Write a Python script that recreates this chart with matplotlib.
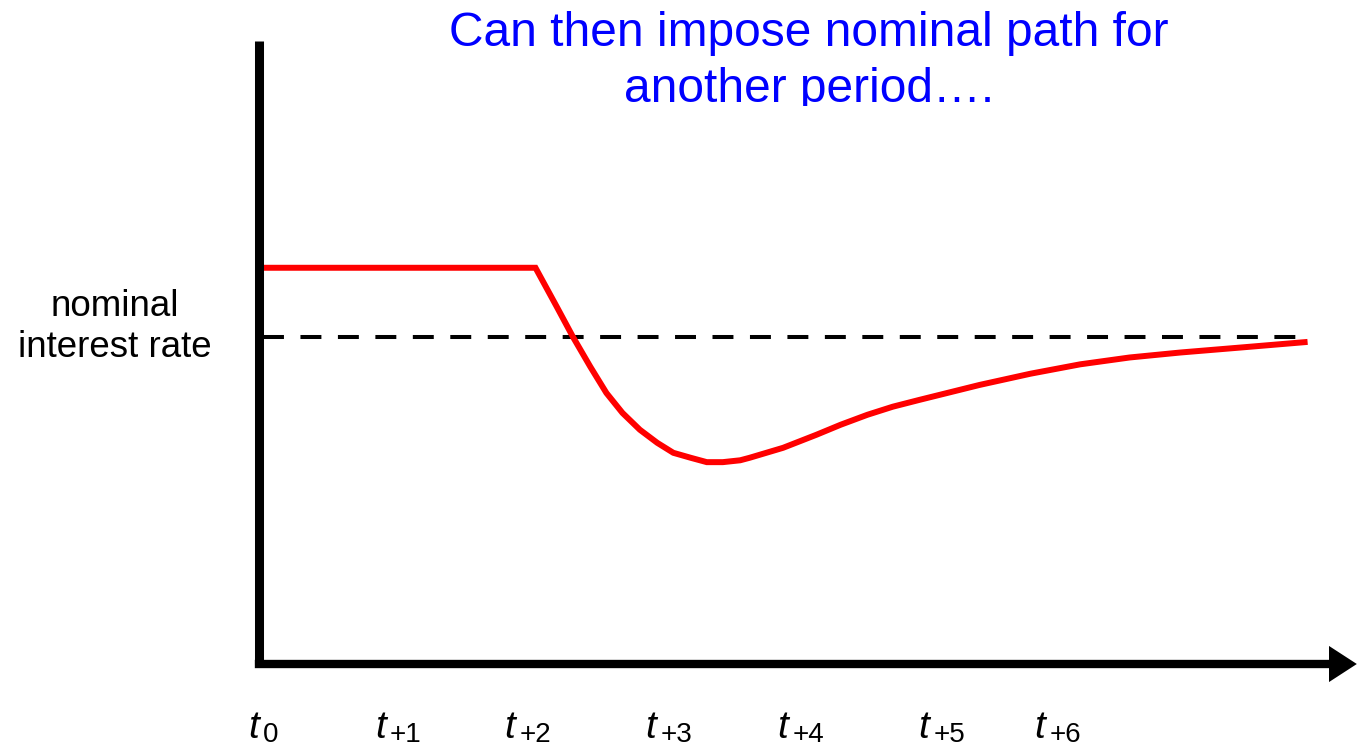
import matplotlib
matplotlib.use("Agg")
import matplotlib.pyplot as plt
from matplotlib.patches import Polygon
from matplotlib.transforms import Bbox, TransformedBbox

plt.rcParams['font.family'] = ['Liberation Sans', 'DejaVu Sans']

# nominal interest rate path (x in periods, y in index units)
path_x = [-0.03, 2.07, 2.23, 2.35, 2.48, 2.60, 2.72, 2.85, 2.98, 3.10,
          3.23, 3.35, 3.47, 3.60, 3.67, 3.92, 4.17, 4.35, 4.55, 4.74, 4.94,
          5.39, 5.77, 6.14, 6.51, 6.89, 7.34, 7.84]
path_y = [63.6, 63.6, 57.3, 52.5, 47.7, 43.5, 40.3, 37.6, 35.5, 33.9,
          33.1, 32.4, 32.4, 32.7, 33.1, 34.7, 36.8, 38.4, 40.0, 41.3, 42.4,
          44.8, 46.6, 48.1, 49.2, 50.0, 50.8, 51.7]

# steady state level (dashed)
steady_x = [0.03, 7.76]
steady_y = [52.5, 52.5]

tick_pos = [-0.08, 0.87, 1.84, 2.89, 3.88, 4.93, 5.80]
tick_subs = ['0', '+1', '+2', '+3', '+4', '+5', '+6']

title_lines = ['Can then impose nominal path for', 'another period\u2026.']
ylabel = 'nominal\ninterest rate'

W, H = 1357, 748
fig = plt.figure(figsize=(W / 100, H / 100), dpi=100)
ax = fig.add_axes([258.5 / W, (H - 664) / H, (1329 - 258.5) / W, (664 - 41) / H])
ax.set_xlim(0, 8)
ax.set_ylim(0, 100)

for s in ['top', 'right']:
    ax.spines[s].set_visible(False)
ax.spines['left'].set_linewidth(6.5)
ax.spines['bottom'].set_linewidth(6)
ax.spines['left'].set_capstyle('butt')
ax.set_xticks([])
ax.set_yticks([])

# arrow head on the x axis
head = Polygon([[1.0, -0.029], [1.026, 0.0], [1.0, 0.029]], closed=True,
               transform=ax.transAxes, clip_on=False, color='black', lw=0)
ax.add_patch(head)

ax.plot(steady_x, steady_y, color='black', lw=2.9, ls=(0, (5.2, 4.1)),
        dash_capstyle='butt')
ax.plot(path_x, path_y, color='#ff0000', lw=4.3, solid_joinstyle='miter',
        solid_capstyle='butt')

# time labels: italic t with a subscript
xt = ax.get_xaxis_transform()
for p, sub in zip(tick_pos, tick_subs):
    ax.annotate('t', xy=(p, 0), xycoords=xt, xytext=(0, -74),
                textcoords='offset pixels', ha='left', va='baseline',
                fontsize=28, fontstyle='italic', annotation_clip=False)
    ax.annotate(sub, xy=(p, 0), xycoords=xt, xytext=(15, -78),
                textcoords='offset pixels', ha='left', va='baseline',
                fontsize=20, annotation_clip=False)

fig.text(115 / W, 1 - 327 / H, ylabel, ha='center', va='center',
         fontsize=26.5, linespacing=1.2)

fig.text(809 / W, 1 - 46 / H, title_lines[0], ha='center', va='baseline',
         fontsize=34.5, color='#0000ff')
t2 = fig.text(809 / W, 1 - 102 / H, title_lines[1], ha='center', va='baseline',
              fontsize=34.5, color='#0000ff')
t2.set_clip_on(True)
t2.set_clip_box(TransformedBbox(Bbox([[0, 1 - 106 / H], [1, 1]]), fig.transFigure))

fig.savefig('out.png', dpi=100)
